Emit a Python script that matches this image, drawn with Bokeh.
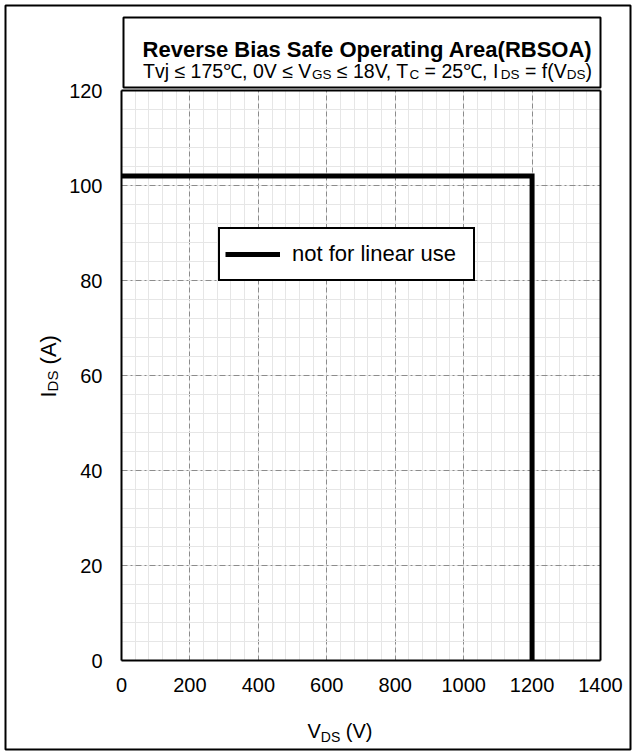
import math
from bokeh.plotting import figure
from bokeh.models import (Range1d, SingleIntervalTicker, FixedTicker, Label,
                          BoxAnnotation, Legend, LegendItem, LinearAxis)
from bokeh.embed import file_html
from bokeh.resources import INLINE

# ---- data ----
vds = [0, 1200, 1200]
ids = [102, 102, 0]
x_ticks = [0, 200, 400, 600, 800, 1000, 1200, 1400]
y_ticks = [0, 20, 40, 60, 80, 100, 120]
title_text = "Reverse Bias Safe Operating Area(RBSOA)"
legend_text = "not for linear use"
subtitle_parts = [("Tvj \u2264 175\u2103, 0V \u2264 V", False), ("GS", True),
                  (" \u2264 18V, T", False), ("C", True),
                  (" = 25\u2103, I", False), ("DS", True),
                  (" = f(V", False), ("DS", True), (")", False)]
xlabel_parts = [("V", False), ("DS", True), (" (V)", False)]
ylabel_parts = [("I", False), ("DS", True), (" (A)", False)]

FONT = "Liberation Sans"
W, H = 635, 751
# pixel placement of the data area inside the canvas
PX0, PX1 = 121, 600   # x = first / last tick
PY0, PY1 = 660, 90    # y = first / last tick

x_min, x_max = x_ticks[0], x_ticks[-1]
y_min, y_max = y_ticks[0], y_ticks[-1]
kx = (x_max - x_min) / (PX1 - PX0)
ky = (y_max - y_min) / (PY0 - PY1)
x_range = Range1d(x_min - PX0 * kx, x_min + (W - PX0) * kx)
y_range = Range1d(y_min - (H - PY0) * ky, y_min + PY0 * ky)

# Arial / Liberation Sans advance widths (1/1000 em)
AW = {' ': 278, '(': 333, ')': 333, ',': 278, '=': 584, '\u2264': 500,
      'T': 611, 'v': 500, 'j': 222, 'V': 667, 'G': 778, 'S': 667, 'C': 722,
      'I': 278, 'D': 722, 'f': 278, 'A': 667, '\u2103': 1100}


def tw(s, size):
    return sum(AW.get(c, 556) for c in s) * size / 1000.0


def sx(px):
    return px


def sy(py):
    return H - py


p = figure(width=W, height=H, output_backend="svg", toolbar_location=None,
           x_range=x_range, y_range=y_range,
           min_border_left=0, min_border_right=0, min_border_top=0,
           min_border_bottom=0)
p.background_fill_color = "white"
p.border_fill_color = "white"
p.outline_line_color = None

xt = SingleIntervalTicker(interval=x_ticks[1] - x_ticks[0], num_minor_ticks=5)
yt = SingleIntervalTicker(interval=y_ticks[1] - y_ticks[0], num_minor_ticks=5)
p.xaxis.ticker = xt
p.yaxis.ticker = yt
p.xaxis.fixed_location = y_min
p.yaxis.fixed_location = x_min
p.xaxis.bounds = (x_min, x_max)
p.yaxis.bounds = (y_min, y_max)
for ax in (p.xaxis, p.yaxis):
    ax.axis_line_color = "black"
    ax.axis_line_width = 2
    ax.major_tick_line_color = None
    ax.minor_tick_line_color = None
    ax.major_tick_out = 0
    ax.major_tick_in = 0
    ax.minor_tick_out = 0
    ax.major_label_text_font = FONT
    ax.major_label_text_font_size = "20px"
    ax.major_label_text_color = "black"
p.xaxis.major_label_standoff = 17
p.yaxis.major_label_standoff = 19

# top and right frame edges
top_ax = LinearAxis(fixed_location=y_max, bounds=(x_min, x_max),
                    ticker=FixedTicker(ticks=[]), axis_line_color="black",
                    axis_line_width=2, major_tick_line_color=None,
                    minor_tick_line_color=None)
right_ax = LinearAxis(fixed_location=x_max, bounds=(y_min, y_max),
                      ticker=FixedTicker(ticks=[]), axis_line_color="black",
                      axis_line_width=2, major_tick_line_color=None,
                      minor_tick_line_color=None)
p.add_layout(top_ax, "above")
p.add_layout(right_ax, "right")

p.xgrid.bounds = (x_min, x_max)
p.ygrid.bounds = (y_min, y_max)
p.xgrid.cross_bounds = (y_min, y_max)
p.ygrid.cross_bounds = (x_min, x_max)
p.xgrid.grid_line_color = "#8c8c8c"
p.xgrid.grid_line_dash = "5 3"
p.xgrid.minor_grid_line_color = "#e6e6e6"
p.ygrid.grid_line_color = "#8c8c8c"
p.ygrid.grid_line_dash = "6 3 2 3"
p.ygrid.minor_grid_line_color = "#e6e6e6"

r = p.line(vds, ids, line_color="black", line_width=5, line_join="miter")

legend = Legend(items=[LegendItem(label=legend_text, renderers=[r])],
                location=(sx(218), sy(281)), margin=0, padding=5,
                glyph_width=55, glyph_height=26, label_standoff=12,
                label_width=176, label_height=40, spacing=0,
                border_line_color="black", border_line_width=2,
                border_line_alpha=1,
                background_fill_alpha=1, background_fill_color="white",
                label_text_font=FONT, label_text_font_size="22px",
                label_text_color="black")
p.add_layout(legend, "center")

# outer frame and title box
p.add_layout(BoxAnnotation(left=sx(5), right=sx(630), top=sy(5), bottom=sy(749),
                           left_units="screen", right_units="screen",
                           top_units="screen", bottom_units="screen",
                           fill_alpha=0, line_color="black", line_width=2,
                           line_alpha=1))
p.add_layout(BoxAnnotation(left=sx(123), right=sx(600), top=sy(17), bottom=sy(87),
                           left_units="screen", right_units="screen",
                           top_units="screen", bottom_units="screen",
                           fill_color="white", fill_alpha=1,
                           line_color="black", line_width=2, line_alpha=1))

# title
p.add_layout(Label(x=sx(367), y=sy(49), x_units="screen", y_units="screen",
                   text=title_text, text_font=FONT, text_font_size="22px",
                   text_font_style="bold", text_align="center",
                   text_baseline="alphabetic", text_color="black"))


def add_parts(parts, size, sub_size, sub_drop, start_x, base_y, angle=0.0):
    pos = 0.0
    for txt, is_sub in parts:
        fs = sub_size if is_sub else size
        lead = len(txt) - len(txt.lstrip(" "))
        off = pos + tw(" " * lead, fs)
        shown = txt.strip(" ")
        if angle == 0.0:
            x, y = start_x + off, base_y - (sub_drop if is_sub else 0)
        else:
            x, y = start_x + (sub_drop if is_sub else 0), base_y + off
        p.add_layout(Label(x=x, y=y, x_units="screen", y_units="screen",
                           text=shown, text_font=FONT, text_font_size=f"{fs}px",
                           text_align="left", text_baseline="alphabetic",
                           text_color="black", angle=angle))
        pos += tw(txt, fs)
    return pos


def total(parts, size, sub_size):
    return sum(tw(t, sub_size if s else size) for t, s in parts)


tot = total(subtitle_parts, 19.5, 13.5)
add_parts(subtitle_parts, 19.5, 13.5, 4, sx(367) - tot / 2, sy(70))

add_parts(xlabel_parts, 20, 14, 6, sx(307), sy(730))
add_parts(ylabel_parts, 22, 15, 4, sx(48), sy(397), angle=math.pi / 2)

open("out.html", "w").write(file_html(p, INLINE))
